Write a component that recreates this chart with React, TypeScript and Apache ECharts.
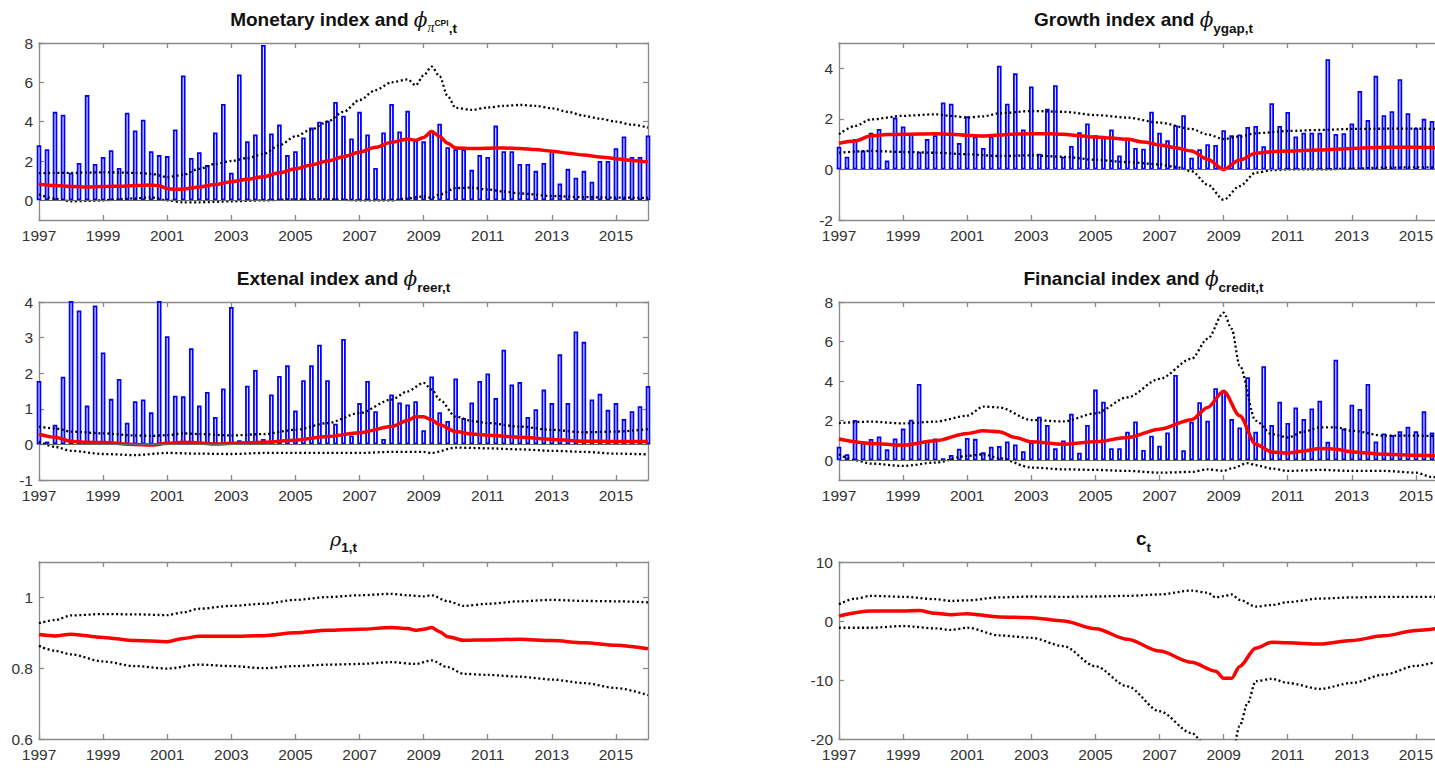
import React, { useEffect, useRef } from 'react';
import * as echarts from 'echarts';

// ---------- DATA ----------
const QUARTERS: number[] = [];
for (let i = 0; i <= 76; i++) QUARTERS.push(1997 + i * 0.25);

const X_TICKS = [1997, 1999, 2001, 2003, 2005, 2007, 2009, 2011, 2013, 2015];

const MONETARY_BARS = [
  2.8, 2.6, 4.5, 4.35, 1.4, 1.9, 5.35, 1.85, 2.2, 2.55,
  1.65, 4.45, 3.55, 4.1, 2.5, 2.3, 2.25, 3.6, 6.35, 2.15,
  2.45, 1.8, 3.45, 4.9, 1.4, 6.4, 3.0, 3.35, 7.9, 3.4,
  3.85, 2.3, 2.5, 3.2, 3.7, 4.0, 4.05, 5.0, 4.3, 3.15,
  4.5, 3.35, 1.65, 3.45, 4.9, 3.5, 4.55, 3.05, 3.0, 3.55,
  3.9, 2.7, 2.6, 2.6, 1.55, 2.3, 2.2, 3.8, 2.5, 2.5,
  1.85, 1.85, 1.5, 1.9, 2.5, 0.85, 1.6, 1.15, 1.5, 0.95,
  2.0, 2.0, 2.65, 3.25, 2.2, 2.2, 3.3,
];
const MONETARY_MED = [
  [1997, 0.82], [1997.5, 0.75], [1998, 0.7], [1998.5, 0.68], [1999, 0.7], [1999.5, 0.72], [2000, 0.75],
  [2000.5, 0.78], [2000.75, 0.74], [2001, 0.6], [2001.25, 0.55], [2001.5, 0.57], [2002, 0.68], [2002.5, 0.8],
  [2003, 0.95], [2003.5, 1.07], [2004, 1.2], [2004.5, 1.4], [2005, 1.6], [2005.5, 1.8], [2006, 2.0],
  [2006.5, 2.22], [2007, 2.45], [2007.5, 2.7], [2008, 2.95], [2008.5, 3.12], [2008.75, 3.05], [2009, 3.2],
  [2009.25, 3.5], [2009.5, 3.25], [2009.75, 2.9], [2010, 2.66], [2010.5, 2.63], [2011, 2.65], [2011.5, 2.66],
  [2012, 2.64], [2012.5, 2.58], [2013, 2.5], [2013.5, 2.4], [2014, 2.3], [2014.5, 2.2], [2015, 2.12],
  [2015.5, 2.03], [2016, 1.95],
];
const MONETARY_UP = [
  [1997, 1.38], [1998, 1.4], [1999, 1.42], [2000, 1.4], [2000.5, 1.35], [2001, 1.18], [2001.5, 1.3],
  [2002, 1.6], [2002.5, 1.85], [2003, 2.0], [2003.5, 2.15], [2004, 2.35], [2004.5, 2.8], [2005, 3.25],
  [2005.5, 3.6], [2006, 4.0], [2006.5, 4.5], [2007, 5.1], [2007.5, 5.6], [2008, 6.0], [2008.5, 6.15],
  [2008.75, 5.85], [2009, 6.35], [2009.25, 6.8], [2009.5, 6.3], [2009.75, 5.3], [2010, 4.7], [2010.5, 4.6],
  [2011, 4.72], [2011.5, 4.8], [2012, 4.85], [2012.5, 4.8], [2013, 4.68], [2013.5, 4.5], [2014, 4.3],
  [2014.5, 4.15], [2015, 4.0], [2015.5, 3.85], [2016, 3.7],
];
const MONETARY_LO = [
  [1997, 0.3], [1997.5, 0.08], [1998, -0.05], [1998.5, -0.03], [1999, 0.0], [1999.5, 0.05], [2000, 0.1],
  [2000.5, 0.15], [2001, 0.0], [2001.5, -0.1], [2002, -0.1], [2003, -0.05], [2004, 0.0], [2005, 0.05],
  [2006, 0.05], [2007, 0.0], [2008, 0.0], [2008.5, 0.1], [2009, 0.2], [2009.25, 0.12], [2009.5, 0.3],
  [2010, 0.62], [2010.5, 0.65], [2011, 0.55], [2011.5, 0.45], [2012, 0.35], [2013, 0.22], [2014, 0.16],
  [2015, 0.14], [2016, 0.12],
];

const GROWTH_BARS = [
  0.9, 0.5, 1.2, 0.75, 1.45, 1.6, 0.35, 2.05, 1.7, 1.4,
  0.7, 1.2, 1.35, 2.65, 2.6, 1.05, 2.1, 1.3, 0.85, 1.3,
  4.1, 2.6, 3.8, 1.58, 3.28, 0.62, 2.4, 3.33, 0.5, 0.93,
  1.47, 1.82, 1.35, 1.3, 1.58, 0.55, 1.25, 0.85, 0.82, 2.28,
  1.45, 1.15, 1.75, 2.14, 0.46, 0.8, 1.0, 0.97, 1.55, 1.35,
  1.38, 1.68, 1.72, 0.92, 2.62, 1.72, 2.27, 1.3, 1.45, 1.45,
  1.45, 4.36, 1.4, 1.43, 1.82, 3.1, 1.95, 3.7, 2.14, 2.3,
  3.57, 2.22, 1.65, 2.0, 1.92, 1.9, 1.5,
];
const GROWTH_MED = [
  [1997, 1.03], [1997.5, 1.12], [1998, 1.33], [1998.5, 1.38], [1999, 1.39], [2000, 1.41], [2000.5, 1.39],
  [2001, 1.35], [2001.5, 1.32], [2002, 1.36], [2002.5, 1.4], [2003, 1.41], [2003.5, 1.41], [2004, 1.39],
  [2004.5, 1.33], [2005, 1.28], [2005.5, 1.24], [2006, 1.19], [2006.5, 1.08], [2007, 0.97], [2007.5, 0.86],
  [2008, 0.73], [2008.5, 0.4], [2009, 0.0], [2009.5, 0.37], [2010, 0.64], [2010.5, 0.7], [2011, 0.73],
  [2012, 0.77], [2013, 0.83], [2014, 0.88], [2015, 0.88], [2016, 0.85],
];
const GROWTH_UP = [
  [1997, 1.39], [1997.5, 1.72], [1998, 1.98], [1999, 2.12], [2000, 2.18], [2000.5, 2.12], [2001, 2.05],
  [2001.5, 2.1], [2002, 2.22], [2003, 2.31], [2004, 2.28], [2005, 2.15], [2006, 2.05], [2007, 1.85],
  [2008, 1.6], [2008.5, 1.38], [2009, 1.2], [2009.5, 1.3], [2010, 1.43], [2011, 1.52], [2012, 1.56],
  [2013, 1.6], [2014, 1.61], [2015, 1.61], [2016, 1.6],
];
const GROWTH_LO = [
  [1997, 0.66], [1998, 0.73], [1999, 0.69], [2000, 0.66], [2001, 0.6], [2002, 0.53], [2003, 0.56],
  [2004, 0.5], [2005, 0.38], [2006, 0.29], [2007, 0.2], [2007.5, 0.1], [2008, -0.07], [2008.5, -0.6],
  [2009, -1.2], [2009.5, -0.66], [2010, -0.13], [2010.5, -0.03], [2011, 0.0], [2012, 0.0], [2013, 0.03],
  [2014, 0.07], [2015, 0.08], [2016, 0.08],
];

const EXTERNAL_BARS = [
  1.78, 0.08, 0.55, 1.9, 4.6, 3.76, 1.09, 3.9, 2.58, 1.28,
  1.84, 0.61, 1.21, 1.26, 0.9, 5.0, 3.04, 1.37, 1.35, 2.7,
  1.09, 1.47, 0.77, 1.57, 3.86, 0.12, 1.65, 2.09, 0.15, 1.4,
  1.92, 2.22, 0.95, 1.8, 2.22, 2.8, 1.8, 0.58, 2.96, 0.25,
  1.16, 1.78, 0.93, 0.15, 1.4, 1.18, 1.12, 1.21, 0.4, 1.91,
  0.9, 0.66, 1.85, 0.74, 1.18, 1.78, 1.99, 1.3, 2.66, 1.68,
  1.75, 0.77, 0.99, 1.54, 1.16, 2.53, 1.16, 3.17, 2.88, 1.26,
  1.42, 0.97, 1.16, 0.71, 0.93, 1.07, 1.64,
];
const EXTERNAL_MED = [
  [1997, 0.29], [1997.5, 0.2], [1998, 0.09], [1998.5, 0.06], [1999, 0.05], [2000, 0.0], [2000.5, -0.02],
  [2001, 0.03], [2001.5, 0.06], [2002, 0.04], [2002.5, 0.01], [2003, 0.03], [2004, 0.06], [2005, 0.12],
  [2006, 0.22], [2007, 0.33], [2008, 0.5], [2008.5, 0.67], [2008.75, 0.78], [2009, 0.78], [2009.25, 0.69],
  [2009.5, 0.55], [2010, 0.36], [2010.5, 0.29], [2011, 0.26], [2012, 0.2], [2013, 0.14], [2014, 0.09],
  [2015, 0.08], [2016, 0.08],
];
const EXTERNAL_UP = [
  [1997, 0.5], [1997.5, 0.45], [1998, 0.36], [1999, 0.31], [2000, 0.25], [2000.5, 0.24], [2001, 0.26],
  [2001.5, 0.31], [2002, 0.29], [2003, 0.25], [2004, 0.29], [2005, 0.41], [2006, 0.6], [2007, 0.88],
  [2008, 1.26], [2008.5, 1.49], [2009, 1.73], [2009.25, 1.54], [2009.5, 1.26], [2010, 0.78], [2010.5, 0.66],
  [2011, 0.6], [2012, 0.5], [2013, 0.41], [2014, 0.34], [2015, 0.36], [2016, 0.43],
];
const EXTERNAL_LO = [
  [1997, 0.08], [1997.5, -0.07], [1998, -0.18], [1999, -0.27], [2000, -0.3], [2001, -0.24], [2002, -0.26],
  [2003, -0.27], [2004, -0.24], [2005, -0.24], [2006, -0.24], [2007, -0.24], [2008, -0.21], [2009, -0.21],
  [2009.25, -0.24], [2010, -0.09], [2011, -0.11], [2012, -0.14], [2013, -0.18], [2014, -0.21],
  [2015, -0.26], [2016, -0.28],
];

const FINANCIAL_BARS = [
  0.68, 0.3, 2.03, 0.9, 1.07, 1.2, 0.55, 1.1, 1.6, 2.05,
  3.86, 0.98, 1.1, 0.1, 0.27, 0.58, 1.12, 1.08, 0.4, 0.68,
  0.72, 0.95, 0.8, 0.45, 0.9, 2.2, 1.78, 0.6, 1.0, 2.35,
  0.38, 1.78, 3.57, 2.96, 0.61, 0.61, 1.44, 1.96, 0.52, 1.24,
  0.73, 1.4, 4.31, 0.5, 1.95, 2.93, 2.0, 3.64, 3.47, 2.08,
  1.66, 4.2, 1.44, 4.75, 1.78, 2.96, 1.88, 2.67, 2.08, 2.62,
  3.01, 0.93, 5.08, 1.6, 2.81, 2.59, 3.86, 0.95, 1.35, 1.27,
  1.46, 1.69, 1.46, 2.47, 1.4, 3.1, 2.5,
];
const FINANCIAL_MED = [
  [1997, 1.07], [1998, 0.85], [1999, 0.76], [2000, 0.98], [2001, 1.35], [2001.5, 1.49], [2002, 1.44],
  [2002.5, 1.15], [2003, 0.93], [2004, 0.81], [2005, 0.93], [2006, 1.15], [2007, 1.57], [2008, 2.05],
  [2008.5, 2.67], [2009, 3.49], [2009.5, 2.25], [2010, 0.81], [2010.5, 0.42], [2011, 0.36], [2011.5, 0.47],
  [2012, 0.59], [2012.5, 0.56], [2013, 0.42], [2014, 0.3], [2015, 0.25], [2016, 0.2],
];
const FINANCIAL_UP = [
  [1997, 1.88], [1998, 1.95], [1999, 1.86], [2000, 1.95], [2001, 2.25], [2001.5, 2.71], [2002, 2.67],
  [2003, 2.03], [2004, 1.96], [2005, 2.37], [2006, 3.18], [2007, 4.11], [2008, 5.13], [2008.5, 6.14],
  [2009, 7.46], [2009.25, 6.65], [2009.5, 4.79], [2010, 2.0], [2010.5, 1.32], [2011, 1.15], [2011.5, 1.44],
  [2012, 1.66], [2012.5, 1.66], [2013, 1.49], [2014, 1.24], [2015, 1.24], [2016, 1.2],
];
const FINANCIAL_LO = [
  [1997, 0.3], [1997.5, 0.0], [1998, -0.17], [1999, -0.29], [2000, -0.12], [2001, 0.22], [2001.5, 0.3],
  [2002, 0.1], [2003, -0.37], [2004, -0.46], [2005, -0.49], [2006, -0.54], [2007, -0.63], [2008, -0.59],
  [2008.5, -0.46], [2009, -0.54], [2009.25, -0.41], [2009.75, -0.15], [2010, -0.25], [2010.5, -0.42],
  [2011, -0.54], [2012, -0.49], [2013, -0.54], [2014, -0.54], [2015, -0.63], [2015.5, -0.85], [2016, -0.95],
];

const RHO_MED = [
  [1997, 0.895], [1997.5, 0.891], [1998, 0.896], [1999, 0.887], [2000, 0.878], [2001, 0.875], [2001.5, 0.884],
  [2002, 0.89], [2003, 0.89], [2004, 0.892], [2005, 0.9], [2006, 0.907], [2007, 0.91], [2008, 0.915],
  [2008.5, 0.912], [2008.75, 0.907], [2009, 0.91], [2009.25, 0.915], [2009.5, 0.903], [2009.75, 0.889],
  [2010.25, 0.879], [2011, 0.88], [2012, 0.882], [2013, 0.878], [2014, 0.872], [2015, 0.865], [2016, 0.855],
];
const RHO_UP = [
  [1997, 0.927], [1997.5, 0.936], [1998, 0.949], [1999, 0.953], [2000, 0.952], [2001, 0.95], [2001.5, 0.958],
  [2002, 0.968], [2003, 0.976], [2004, 0.982], [2005, 0.993], [2006, 1.001], [2007, 1.006], [2008, 1.01],
  [2008.5, 1.006], [2009, 1.003], [2009.25, 1.006], [2009.75, 0.989], [2010.25, 0.976], [2011, 0.982],
  [2012, 0.989], [2013, 0.993], [2014, 0.99], [2015, 0.989], [2016, 0.986],
];
const RHO_LO = [
  [1997, 0.863], [1997.5, 0.849], [1998, 0.839], [1999, 0.819], [2000, 0.806], [2001, 0.799], [2002, 0.81],
  [2003, 0.806], [2004, 0.8], [2005, 0.806], [2006, 0.81], [2007, 0.812], [2008, 0.817], [2008.75, 0.812],
  [2009.25, 0.822], [2009.75, 0.803], [2010.25, 0.784], [2011, 0.781], [2012, 0.776], [2013, 0.768],
  [2014, 0.758], [2015, 0.744], [2016, 0.724],
];

const C_MED = [
  [1997, 0.85], [1998, 1.7], [1999, 1.7], [1999.5, 1.76], [2000, 1.3], [2000.5, 1.08], [2001, 1.25],
  [2002, 0.68], [2003, 0.57], [2004, 0.0], [2005, -1.3], [2006, -3.1], [2007, -5.1], [2008, -7.0],
  [2008.75, -8.5], [2009, -9.7], [2009.25, -9.7], [2009.5, -7.7], [2010, -4.6], [2010.5, -3.6],
  [2011, -3.7], [2012, -3.9], [2013, -3.3], [2014, -2.5], [2015, -1.6], [2016, -1.0],
];
const C_UP = [
  [1997, 2.84], [1997.5, 3.8], [1998, 4.26], [1999, 4.1], [2000, 3.7], [2000.5, 3.4], [2001, 3.5],
  [2002, 4.0], [2003, 4.15], [2004, 4.1], [2005, 4.15], [2006, 4.26], [2007, 4.5], [2008, 5.15],
  [2008.5, 4.8], [2008.75, 4.0], [2009, 4.2], [2009.25, 4.5], [2009.5, 3.6], [2010, 2.45], [2010.5, 2.7],
  [2011, 3.2], [2012, 3.8], [2013, 4.0], [2014, 4.1], [2015, 4.1], [2016, 4.1],
];
const C_LO = [
  [1997, -1.14], [1998, -1.14], [1999, -0.85], [2000, -1.25], [2000.5, -1.5], [2001, -1.14], [2002, -2.44],
  [2003, -2.84], [2004, -4.26], [2005, -7.67], [2006, -11.08], [2007, -15.3], [2008, -19.0], [2008.5, -21.5],
  [2009, -24], [2009.25, -23], [2009.5, -17.8], [2009.75, -13.9], [2010, -10.2], [2010.5, -9.8],
  [2011, -10.5], [2012, -11.5], [2013, -10.5], [2014, -9.1], [2015, -7.6], [2016, -6.3],
];

const TITLES = [
  '{m|Monetary index and }{phi|ϕ}{sg|π}{sup|CPI}{s|,t}',
  '{m|Growth index and }{phi|ϕ}{s|ygap,t}',
  '{m|Extenal index and }{phi|ϕ}{s|reer,t}',
  '{m|Financial index and }{phi|ϕ}{s|credit,t}',
  '{rho|ρ}{s|1,t}',
  '{m|c}{s|t}',
];

// ---------- LAYOUT / STYLE ----------
const GRIDS = [
  { left: 39, top: 43, width: 609, height: 177 },
  { left: 839, top: 43, width: 609, height: 177 },
  { left: 39, top: 302, width: 609, height: 178 },
  { left: 839, top: 302, width: 609, height: 178 },
  { left: 39, top: 562, width: 609, height: 177 },
  { left: 839, top: 562, width: 609, height: 177 },
];
const TITLE_Y = [19.5, 19.5, 278.5, 278.5, 538.5, 538.5];

const PANELS = [
  { bars: MONETARY_BARS, med: MONETARY_MED, up: MONETARY_UP, lo: MONETARY_LO, yMin: -1, yMax: 8, yTicks: [0, 2, 4, 6, 8] },
  { bars: GROWTH_BARS, med: GROWTH_MED, up: GROWTH_UP, lo: GROWTH_LO, yMin: -2, yMax: 5, yTicks: [-2, 0, 2, 4] },
  { bars: EXTERNAL_BARS, med: EXTERNAL_MED, up: EXTERNAL_UP, lo: EXTERNAL_LO, yMin: -1, yMax: 4, yTicks: [-1, 0, 1, 2, 3, 4] },
  { bars: FINANCIAL_BARS, med: FINANCIAL_MED, up: FINANCIAL_UP, lo: FINANCIAL_LO, yMin: -1, yMax: 8, yTicks: [0, 2, 4, 6, 8] },
  { bars: null, med: RHO_MED, up: RHO_UP, lo: RHO_LO, yMin: 0.6, yMax: 1.1, yTicks: [0.6, 0.8, 1] },
  { bars: null, med: C_MED, up: C_UP, lo: C_LO, yMin: -20, yMax: 10, yTicks: [-20, -10, 0, 10] },
];

const AXIS_COLOR = '#8a8a8a';
const LABEL_COLOR = '#333';
const FONT = 'Liberation Sans';

const RICH: any = {
  m: { fontFamily: FONT, fontWeight: 'bold', fontSize: 19, fill: '#111' },
  phi: { fontFamily: 'DejaVu Serif', fontStyle: 'italic', fontSize: 20, fill: '#111' },
  s: { fontFamily: FONT, fontWeight: 'bold', fontSize: 13.5, fill: '#111', padding: [17, 0, 0, 0] },
  sg: { fontFamily: 'Liberation Serif', fontStyle: 'italic', fontSize: 14, fill: '#111', padding: [16, 0, 0, 0] },
  sup: { fontFamily: FONT, fontWeight: 'bold', fontSize: 8.5, fill: '#111', padding: [6, 0, 0, 0] },
  rho: { fontFamily: 'DejaVu Serif', fontStyle: 'italic', fontSize: 19, fill: '#111' },
};

function buildOption() {
  const xAxis: any[] = [];
  const yAxis: any[] = [];
  const series: any[] = [];
  const lineStyle = { color: AXIS_COLOR, width: 1.3 };

  PANELS.forEach((p, i) => {
    ['bottom', 'top'].forEach((pos) => {
      xAxis.push({
        type: 'value', gridIndex: i, min: 1997, max: 2016, position: pos,
        axisLine: { show: true, onZero: false, lineStyle },
        axisTick: { show: true, inside: true, length: 5, customValues: X_TICKS, lineStyle },
        axisLabel: {
          show: pos === 'bottom', customValues: X_TICKS, margin: 7, fontSize: 15.5,
          fontFamily: FONT, color: LABEL_COLOR, formatter: (v: number) => String(v),
        },
        splitLine: { show: false },
      });
    });
    ['left', 'right'].forEach((pos) => {
      yAxis.push({
        type: 'value', gridIndex: i, min: p.yMin, max: p.yMax, position: pos,
        axisLine: { show: true, onZero: false, lineStyle },
        axisTick: { show: true, inside: true, length: 5, customValues: p.yTicks, lineStyle },
        axisLabel: {
          show: pos === 'left', customValues: p.yTicks, margin: 6, fontSize: 15.5,
          fontFamily: FONT, color: LABEL_COLOR, formatter: (v: number) => String(v),
        },
        splitLine: { show: false },
      });
    });
    if (p.bars) {
      series.push({
        type: 'bar', xAxisIndex: 2 * i, yAxisIndex: 2 * i, silent: true, clip: true,
        data: QUARTERS.map((q, k) => [q, p.bars![k]]),
        barWidth: 4.6,
        itemStyle: { color: '#ffffff', borderColor: '#0000ff', borderWidth: 1.8 },
        markLine: {
          silent: true, symbol: ['none', 'none'], label: { show: false },
          lineStyle: { color: '#666', width: 1.2, type: 'solid' },
          data: [{ yAxis: 0 }],
        },
        z: 2,
      });
    }
    [p.up, p.lo].forEach((d) => {
      series.push({
        type: 'line', xAxisIndex: 2 * i, yAxisIndex: 2 * i, data: d, silent: true,
        symbol: 'none', showSymbol: false, smooth: 0.3, smoothMonotone: 'x', clip: true,
        lineStyle: { color: '#000', width: 2.3, type: [2, 2.6] }, z: 3,
      });
    });
    series.push({
      type: 'line', xAxisIndex: 2 * i, yAxisIndex: 2 * i, data: p.med, silent: true,
      symbol: 'none', showSymbol: false, smooth: 0.3, smoothMonotone: 'x', clip: true,
      lineStyle: { color: '#ff0000', width: 3.5 }, z: 4,
    });
  });

  const graphic = TITLES.map((t, i) => ({
    type: 'text',
    x: GRIDS[i].left + GRIDS[i].width / 2,
    y: TITLE_Y[i],
    silent: true,
    style: { text: t, rich: RICH, textAlign: 'center', textVerticalAlign: 'middle', fill: '#111' },
  }));

  return {
    animation: false,
    backgroundColor: '#ffffff',
    textStyle: { fontFamily: FONT },
    grid: GRIDS.map((g) => ({ ...g, containLabel: false })),
    xAxis, yAxis, series, graphic,
  };
}

export default function App() {
  const ref = useRef<HTMLDivElement>(null);
  useEffect(() => {
    const chart = echarts.init(ref.current!, null, { renderer: 'svg' });
    chart.setOption(buildOption() as any);
    return () => chart.dispose();
  }, []);
  return (
    <div style={{ position: 'fixed', left: 0, top: 0, width: 1435, height: 768, overflow: 'hidden', background: '#fff' }}>
      <div ref={ref} style={{ width: 1460, height: 768 }} />
    </div>
  );
}
